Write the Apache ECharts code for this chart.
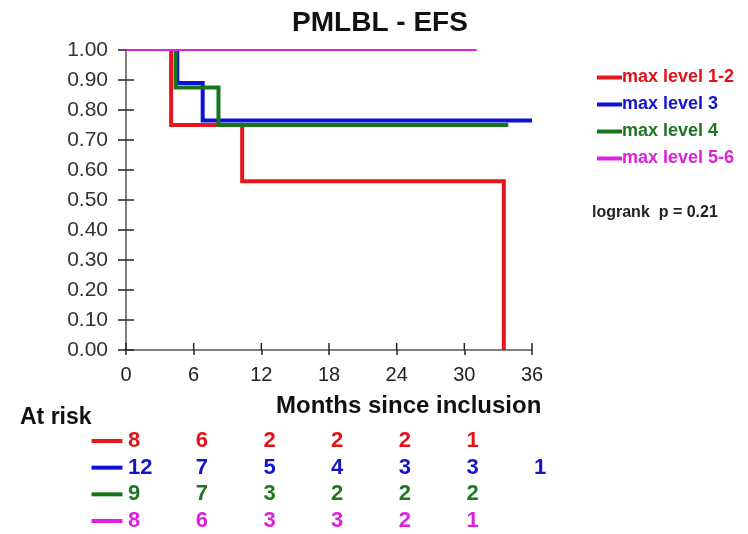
<!DOCTYPE html>
<html>
<head>
<meta charset="utf-8">
<script src="https://cdn.jsdelivr.net/npm/echarts@6/dist/echarts.min.js"></script>
<style>
  html, body { margin: 0; padding: 0; background: #fff; }
  #chart { width: 748px; height: 534px; }
</style>
</head>
<body>
<div id="chart"></div>
<script>
// Kaplan-Meier step corners [month, EFS probability] per group
const groupNames = ['max level 1-2', 'max level 3', 'max level 4', 'max level 5-6'];
const kmLevel12 = [[4.0, 1], [4.0, 0.75], [10.3, 0.75], [10.3, 0.5625], [33.5, 0.5625], [33.5, 0]];
const kmLevel3  = [[4.55, 1], [4.55, 0.89], [6.8, 0.89], [6.8, 0.765], [36, 0.765]];
const kmLevel4  = [[4.4, 1], [4.4, 0.875], [8.2, 0.875], [8.2, 0.75], [33.9, 0.75]];
const kmLevel56 = [[0, 1], [31.1, 1]];

// Number at risk at each 6-month mark
const riskMonths  = [0, 6, 12, 18, 24, 30, 36];
const riskLevel12 = [8, 6, 2, 2, 2, 1];
const riskLevel3  = [12, 7, 5, 4, 3, 3, 1];
const riskLevel4  = [9, 7, 3, 2, 2, 2];
const riskLevel56 = [8, 6, 3, 3, 2, 1];

// Axis tick positions
const xTickValues = [0, 6, 12, 18, 24, 30, 36];
const yTickValues = [0, 0.1, 0.2, 0.3, 0.4, 0.5, 0.6, 0.7, 0.8, 0.9, 1.0];

const lineColors = ['#e8161c', '#0c12d8', '#17761a', '#e01fe0'];
const textColors = ['#e31219', '#1515c8', '#1d7621', '#dc20dc'];
const FONT = '"Liberation Sans", Arial, sans-serif';
const TICK = '#222';

const curves = [kmLevel12, kmLevel3, kmLevel4, kmLevel56];
const risks = [riskLevel12, riskLevel3, riskLevel4, riskLevel56];

const series = curves.map((pts, i) => ({
  name: groupNames[i],
  type: 'line',
  xAxisIndex: 0,
  yAxisIndex: 0,
  data: pts,
  showSymbol: false,
  symbol: 'none',
  color: lineColors[i],
  lineStyle: { color: lineColors[i], width: i === 3 ? 2 : 4, cap: 'butt', join: 'miter' },
  animation: false,
  z: 3 + i
}));

// Inner halves of the cross-shaped axis ticks
series.push({
  type: 'scatter',
  xAxisIndex: 0, yAxisIndex: 0,
  data: yTickValues.map(v => [0, v]),
  symbol: 'rect',
  symbolSize: [8, 1.5],
  symbolOffset: [4, 0],
  itemStyle: { color: TICK, opacity: 1 },
  clip: false, silent: true, animation: false, z: 2
});
series.push({
  type: 'scatter',
  xAxisIndex: 0, yAxisIndex: 0,
  data: xTickValues.map(v => [v, 0]),
  symbol: 'rect',
  symbolSize: [1.5, 7],
  symbolOffset: [0, -3.5],
  itemStyle: { color: TICK, opacity: 1 },
  clip: false, silent: true, animation: false, z: 2
});

// At-risk table: a short coloured bar per row, then the counts under each tick
risks.forEach((row, r) => {
  series.push({
    type: 'scatter',
    xAxisIndex: 1,
    yAxisIndex: 1,
    data: [[0, r]],
    symbol: 'rect',
    symbolSize: [31, 4],
    symbolOffset: [-19, 0],
    itemStyle: { color: lineColors[r], opacity: 1 },
    clip: false, silent: true, animation: false
  });
  series.push({
    type: 'scatter',
    xAxisIndex: 1,
    yAxisIndex: 1,
    data: row.map((n, k) => [riskMonths[k], r, n]),
    symbolSize: 0.1,
    itemStyle: { color: 'rgba(0,0,0,0)', opacity: 1 },
    label: {
      show: true,
      position: 'right',
      distance: 2,
      formatter: p => String(p.value[2]),
      color: textColors[r],
      opacity: 1,
      fontFamily: FONT,
      fontWeight: 'bold',
      fontSize: 22
    },
    clip: false, silent: true, animation: false
  });
});

const chart = echarts.init(document.getElementById('chart'), null, { renderer: 'canvas' });
chart.setOption({
  backgroundColor: '#ffffff',
  animation: false,
  title: {
    text: 'PMLBL - EFS',
    left: 375,
    top: 4,
    textAlign: 'center',
    textStyle: { fontFamily: FONT, fontWeight: 'bold', fontSize: 28, color: '#111' }
  },
  legend: {
    orient: 'vertical',
    left: 592,
    top: 63,
    icon: 'rect',
    itemWidth: 25,
    itemHeight: 4,
    itemGap: 8,
    selectedMode: false,
    data: groupNames.map((n, i) => ({
      name: n,
      itemStyle: { color: lineColors[i] },
      textStyle: { color: textColors[i] }
    })),
    textStyle: { fontFamily: FONT, fontWeight: 'bold', fontSize: 18, lineHeight: 19, padding: [0, 0, 0, -5] }
  },
  grid: [
    { left: 126, top: 50, width: 406, height: 300 },
    { left: 126, top: 441, width: 406, height: 80 }
  ],
  xAxis: [
    {
      gridIndex: 0, type: 'value', min: 0, max: 36, interval: 6,
      axisLine: { lineStyle: { color: '#555', width: 1.5 } },
      axisTick: { show: true, length: 5, inside: false, lineStyle: { color: TICK, width: 1.5 } },
      axisLabel: { margin: 15, fontFamily: FONT, fontSize: 20, color: '#222' },
      splitLine: { show: false }
    },
    {
      gridIndex: 1, type: 'value', min: 0, max: 36, show: false
    }
  ],
  yAxis: [
    {
      gridIndex: 0, type: 'value', min: 0, max: 1, interval: 0.1,
      axisLine: { show: true, lineStyle: { color: '#555', width: 1.5 } },
      axisTick: { show: true, length: 8, inside: false, lineStyle: { color: TICK, width: 1.5 } },
      axisLabel: { margin: 18, fontFamily: FONT, fontSize: 21, color: '#333', formatter: v => v.toFixed(2) },
      splitLine: { show: false }
    },
    {
      gridIndex: 1, type: 'value', min: 0, max: 3, inverse: true, show: false
    }
  ],
  graphic: [
    {
      type: 'text', left: 276, top: 394,
      style: { text: 'Months since inclusion', fontFamily: FONT, fontWeight: 'bold', fontSize: 24, fill: '#111' }
    },
    {
      type: 'text', left: 20, top: 406,
      style: { text: 'At risk', fontFamily: FONT, fontWeight: 'bold', fontSize: 23, fill: '#111' }
    },
    {
      type: 'text', left: 592, top: 205,
      style: { text: 'logrank  p = 0.21', fontFamily: FONT, fontWeight: 'bold', fontSize: 16, fill: '#222' }
    }
  ],
  series: series
});
</script>
</body>
</html>
